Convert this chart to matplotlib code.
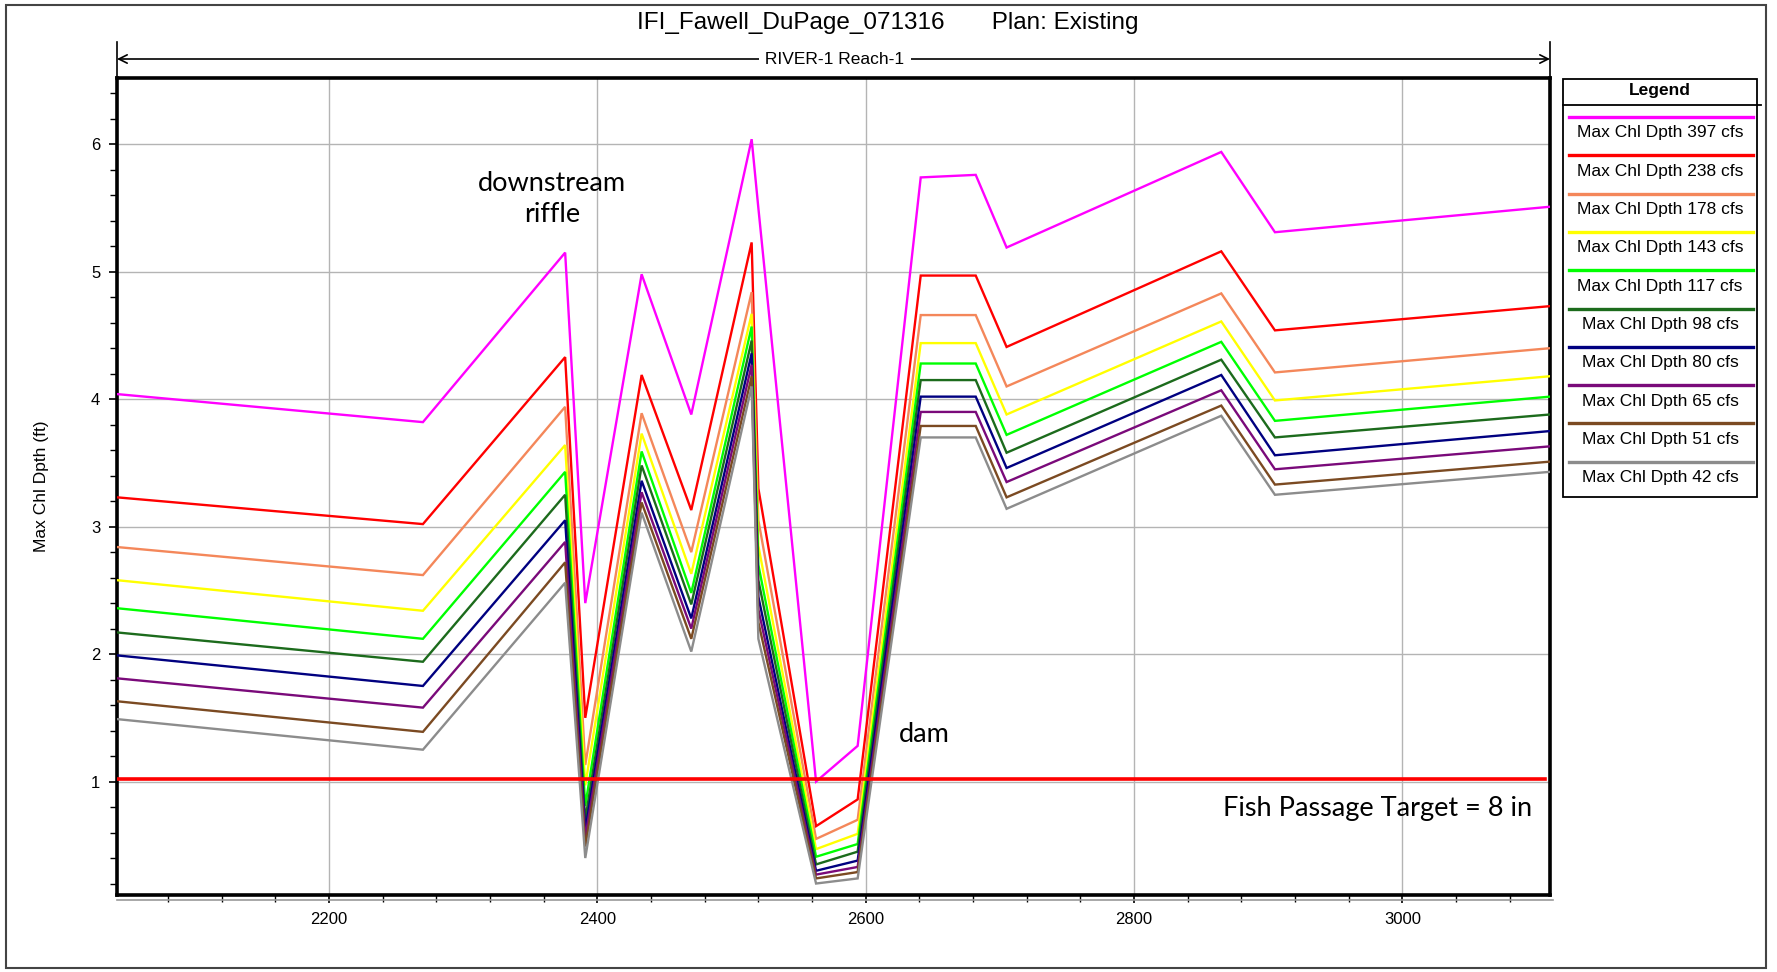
import matplotlib
matplotlib.use("Agg")
import matplotlib.pyplot as plt
from matplotlib import font_manager
from matplotlib.lines import Line2D
from matplotlib.ticker import MultipleLocator

# ---------------- data ----------------
stations = [2042, 2270, 2376, 2391, 2433, 2470, 2515, 2520, 2563, 2594,
            2641, 2682, 2705, 2865, 2905, 3110]

series_labels = ["Max Chl Dpth 397 cfs", "Max Chl Dpth 238 cfs", "Max Chl Dpth 178 cfs",
                 "Max Chl Dpth 143 cfs", "Max Chl Dpth 117 cfs", "Max Chl Dpth 98 cfs",
                 "Max Chl Dpth 80 cfs", "Max Chl Dpth 65 cfs", "Max Chl Dpth 51 cfs",
                 "Max Chl Dpth 42 cfs"]
series_colors = ["#ff00ff", "#ff0000", "#f4875a", "#ffff00", "#00ff00",
                 "#1c6b1c", "#000080", "#7a0a7a", "#7b4a22", "#8c8c8c"]

depth_397 = [4.04, 3.82, 5.15, 2.40, 4.98, 3.88, 6.04, 5.50, 1.00, 1.28, 5.74, 5.76, 5.19, 5.94, 5.31, 5.51]
depth_238 = [3.23, 3.02, 4.33, 1.50, 4.19, 3.13, 5.23, 3.30, 0.65, 0.86, 4.97, 4.97, 4.41, 5.16, 4.54, 4.73]
depth_178 = [2.84, 2.62, 3.94, 1.13, 3.89, 2.80, 4.84, 3.05, 0.55, 0.70, 4.66, 4.66, 4.10, 4.83, 4.21, 4.40]
depth_143 = [2.58, 2.34, 3.64, 0.97, 3.73, 2.63, 4.67, 2.85, 0.47, 0.59, 4.44, 4.44, 3.88, 4.61, 3.99, 4.18]
depth_117 = [2.36, 2.12, 3.43, 0.81, 3.59, 2.48, 4.57, 2.70, 0.41, 0.51, 4.28, 4.28, 3.72, 4.45, 3.83, 4.02]
depth_98 = [2.17, 1.94, 3.25, 0.70, 3.48, 2.39, 4.46, 2.58, 0.35, 0.45, 4.15, 4.15, 3.58, 4.31, 3.70, 3.88]
depth_80 = [1.99, 1.75, 3.05, 0.62, 3.36, 2.28, 4.36, 2.45, 0.30, 0.38, 4.02, 4.02, 3.46, 4.19, 3.56, 3.75]
depth_65 = [1.81, 1.58, 2.88, 0.56, 3.27, 2.20, 4.27, 2.35, 0.27, 0.33, 3.90, 3.90, 3.35, 4.07, 3.45, 3.63]
depth_51 = [1.63, 1.39, 2.72, 0.49, 3.19, 2.12, 4.18, 2.25, 0.24, 0.29, 3.79, 3.79, 3.23, 3.95, 3.33, 3.51]
depth_42 = [1.49, 1.25, 2.56, 0.40, 3.11, 2.02, 4.10, 2.12, 0.20, 0.24, 3.70, 3.70, 3.14, 3.87, 3.25, 3.43]

series_values = [depth_397, depth_238, depth_178, depth_143, depth_117,
                 depth_98, depth_80, depth_65, depth_51, depth_42]

target_depth = 1.02
target_label = "Fish Passage Target = 8 in"
x_ticks = [2200, 2400, 2600, 2800, 3000]
y_ticks = [1, 2, 3, 4, 5, 6]

# ---------------- fonts ----------------
avail = {f.name for f in font_manager.fontManager.ttflist}
narrow = "Liberation Sans Narrow" if "Liberation Sans Narrow" in avail else "Liberation Sans"
calib = "Lato" if "Lato" in avail else "DejaVu Sans"

W, H = 1777, 972
fig = plt.figure(figsize=(W / 100, H / 100), dpi=100)
fig.patch.set_facecolor("white")

def fx(px):
    return px / W

def fy(py):
    return 1 - py / H

ax_l, ax_r, ax_t, ax_b = 117, 1550, 78, 895
ax = fig.add_axes([fx(ax_l), fy(ax_b), fx(ax_r - ax_l), (ax_b - ax_t) / H])

for vals, col in zip(series_values, series_colors):
    ax.plot(stations, vals, color=col, lw=1.7, solid_joinstyle="miter", zorder=3)

ax.plot([stations[0], stations[-1] - 4], [target_depth, target_depth],
        color="#ff0000", lw=2.6, zorder=4)

ax.set_xlim(stations[0], stations[-1])
ax.set_ylim(0.11, 6.52)
ax.set_xticks(x_ticks)
ax.set_yticks(y_ticks)
ax.xaxis.set_minor_locator(MultipleLocator(40))
ax.yaxis.set_minor_locator(MultipleLocator(0.2))
ax.grid(True, which="major", color="#b4b4b4", lw=1.0, zorder=1)
ax.tick_params(axis="both", which="major", direction="out", length=6, width=1.2, color="black")
ax.tick_params(axis="both", which="minor", direction="out", length=5, width=1.0, color="black")
ax.tick_params(axis="x", labelsize=12, pad=6)
ax.tick_params(axis="y", labelsize=12, pad=6)
for lab in ax.get_xticklabels():
    lab.set_family(narrow)
for lab in ax.get_yticklabels():
    lab.set_family("Liberation Sans")
ax.tick_params(top=False, right=False)
for side in ["top", "bottom", "left", "right"]:
    ax.spines[side].set_linewidth(2.6)
    ax.spines[side].set_color("black")

ax.set_ylabel("Max Chl Dpth (ft)", family=narrow, fontsize=12.5, labelpad=30)

# annotations
ax.text(2366, 5.57, "downstream\nriffle", ha="center", va="center",
        family=calib, fontsize=19.5, linespacing=1.3, zorder=5)
ax.text(2644, 1.37, "dam", ha="center", va="center", family=calib, fontsize=19.5, zorder=5)
ax.text(3097, 0.79, target_label, ha="right", va="center", family=calib, fontsize=19.5, zorder=5)

# bottom gray double line
fig.add_artist(Line2D([fx(ax_l), fx(ax_r + 3)], [fy(ax_b + 5), fy(ax_b + 5)],
                      color="#9a9a9a", lw=1.2))

# title
fig.text(fx(888), fy(23), "IFI_Fawell_DuPage_071316       Plan: Existing",
         ha="center", va="center", family=narrow, fontsize=17.5)

# reach arrow
ry = 59
fig.add_artist(Line2D([fx(ax_l), fx(ax_l)], [fy(42), fy(ax_t)], color="black", lw=1.2))
fig.add_artist(Line2D([fx(ax_r), fx(ax_r)], [fy(42), fy(ax_t)], color="black", lw=1.2))
fig.patches.append(matplotlib.patches.FancyArrowPatch(
    (fx(ax_l), fy(ry)), (fx(ax_r), fy(ry)), transform=fig.transFigure,
    arrowstyle="<->,head_length=6,head_width=3", color="black", lw=1.2,
    shrinkA=0, shrinkB=0))
fig.text(fx(835), fy(ry), " RIVER-1 Reach-1 ", ha="center", va="center",
         family=narrow, fontsize=12.5,
         bbox=dict(facecolor="white", edgecolor="none", pad=1))

# legend (manual, HEC-RAS style)
lg_l, lg_r, lg_t, lg_b = 1563, 1757, 79, 497
fig.patches.append(matplotlib.patches.Rectangle(
    (fx(lg_l), fy(lg_b)), fx(lg_r - lg_l), (lg_b - lg_t) / H,
    transform=fig.transFigure, facecolor="white", edgecolor="black", lw=1.3))
fig.add_artist(Line2D([fx(lg_l), fx(lg_r + 4)], [fy(105), fy(105)], color="black", lw=1.3))
fig.text(fx((lg_l + lg_r) / 2), fy(91), "Legend", ha="center", va="center",
         family="Liberation Sans", fontsize=12.5, weight="bold")
step = 38.3
for i, (lab, col) in enumerate(zip(series_labels, series_colors)):
    ly = 117 + step * i
    fig.add_artist(Line2D([fx(1569), fx(1753)], [fy(ly), fy(ly)], color=col, lw=2.4))
    fig.text(fx(1660), fy(ly + 16), lab, ha="center", va="center",
             family=narrow, fontsize=12.5)

# outer border
fig.patches.append(matplotlib.patches.Rectangle(
    (fx(6), fy(968)), fx(1766 - 6), (968 - 5) / H, transform=fig.transFigure,
    facecolor="none", edgecolor="#444444", lw=1.5))

fig.savefig("out.png", dpi=100, facecolor="white")
